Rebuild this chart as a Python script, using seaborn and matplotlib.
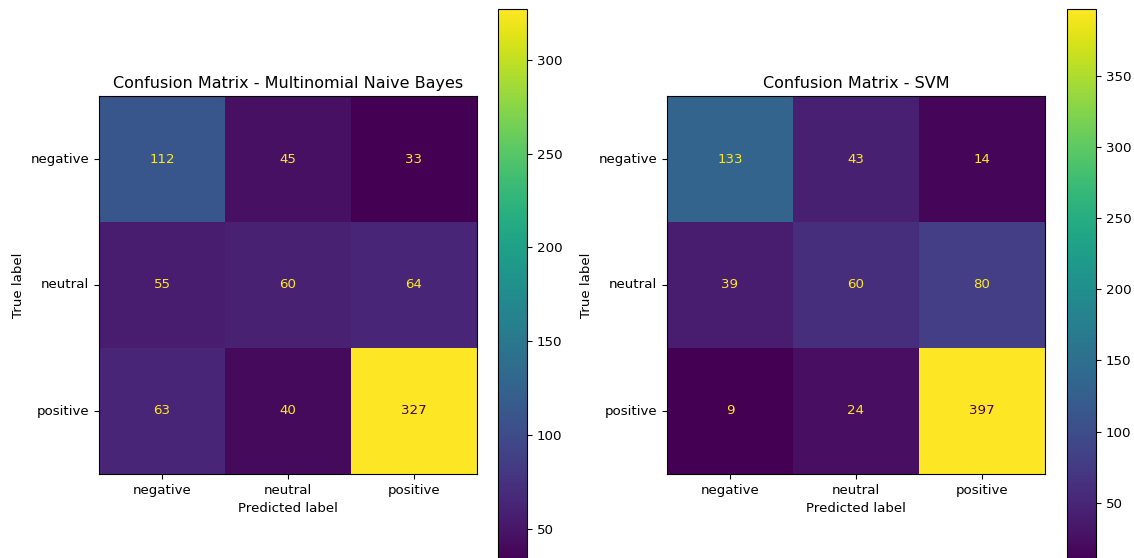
import numpy as np
import pandas as pd
import matplotlib
matplotlib.use("Agg")
import matplotlib.pyplot as plt
import seaborn as sns

labels = ["negative", "neutral", "positive"]
nb_values = [[112, 45, 33],
             [55, 60, 64],
             [63, 40, 327]]
svm_values = [[133, 43, 14],
              [39, 60, 80],
              [9, 24, 397]]
titles = ["Confusion Matrix - Multinomial Naive Bayes", "Confusion Matrix - SVM"]

W, H = 1134, 558
fig = plt.figure(figsize=(W / 100, H / 100), dpi=100)

cmap = plt.get_cmap("viridis")
layouts = [
    (99, 498),
    (667, 1067),
]
fs = 9.6

for (axx, cbx), vals, title in zip(layouts, [nb_values, svm_values], titles):
    df = pd.DataFrame(vals, index=labels, columns=labels)
    ax = fig.add_axes([axx / W, (H - 474) / H, 378 / W, 378 / H])
    cax = fig.add_axes([cbx / W, -3 / H, 29 / W, (H - 9 + 3) / H])
    sns.heatmap(df, annot=True, fmt="d", cmap="viridis", ax=ax, cbar_ax=cax,
                annot_kws={"fontsize": fs})
    arr = np.array(vals)
    thresh = (arr.max() + arr.min()) / 2.0
    for t in ax.texts:
        v = int(t.get_text())
        t.set_color(cmap(0.0) if v >= thresh else cmap(1.0))
    for s in ax.spines.values():
        s.set_visible(True)
        s.set_linewidth(0.8)
        s.set_color("black")
    ax.set_title(title, fontsize=11.5)
    ax.set_xlabel("Predicted label", fontsize=fs)
    ax.set_ylabel("True label", fontsize=fs)
    ax.tick_params(axis="both", which="major", length=3.5, width=0.8, labelsize=fs)
    plt.setp(ax.get_yticklabels(), rotation=0, va="center")
    plt.setp(ax.get_xticklabels(), rotation=0)
    cb = ax.collections[0].colorbar
    cb.outline.set_visible(True)
    cb.outline.set_linewidth(0.8)
    cb.outline.set_edgecolor("black")
    cax.tick_params(labelsize=fs, length=3.5, width=0.8)

fig.savefig("out.png", dpi=100)
